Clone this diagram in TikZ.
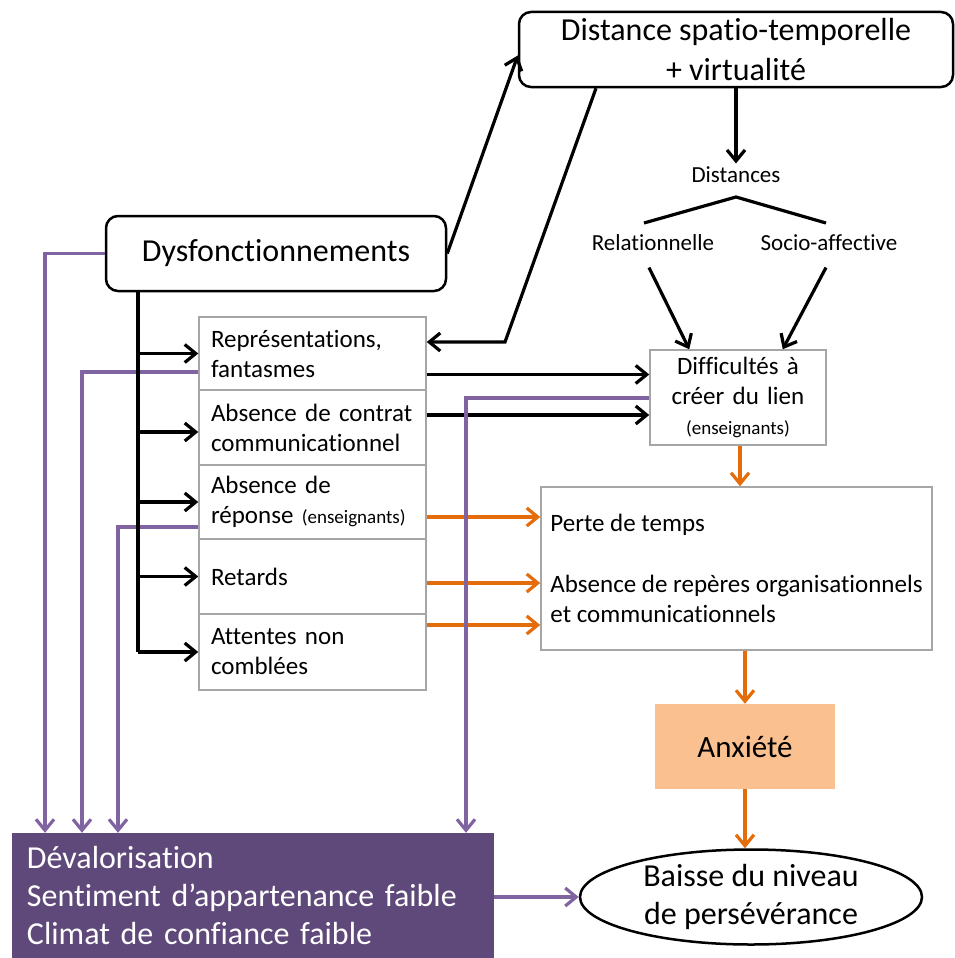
\documentclass[tikz,border=0pt]{standalone}
\usepackage{fontspec}
\setmainfont{Carlito}[Ligatures=NoCommon]
\usetikzlibrary{arrows.meta,shapes.geometric}

\definecolor{violetligne}{HTML}{8064A2}
\definecolor{violetfond}{HTML}{5F497A}
\definecolor{orangeligne}{HTML}{E46C0A}
\definecolor{orangefond}{HTML}{FAC090}
\definecolor{grisbord}{HTML}{A6A6A6}

\tikzset{
  arrondi/.style={draw, rounded corners=12pt, line width=2.5pt, align=center,
    font=\fontsize{32}{40}\selectfont},
  casegris/.style={draw=grisbord, line width=1.5pt, fill=white, align=left,
    text width=203pt, inner xsep=12pt, font=\fontsize{25}{30}\selectfont},
  petit/.style={font=\fontsize{23}{28}\selectfont},
  fleche/.style={->, line width=3.2pt},
  flecheor/.style={->, line width=3.2pt, orangeligne},
  flechevi/.style={->, line width=3.2pt, violetligne},
}

\begin{document}
\begin{tikzpicture}[x=1pt, y=-1pt, >={Straight Barb[length=11pt,width=18pt]}]
  \useasboundingbox (0,0) rectangle (955,958);

  % boites du haut
  \node[arrondi, minimum width=434pt, minimum height=75pt] (haut) at (736,49.5)
    {Distance spatio-temporelle\\+ virtualité};
  \node[arrondi, minimum width=340pt, minimum height=75pt] (dysf) at (276,253.5)
    {Dysfonctionnements};

  % distances
  \node[petit] (dist) at (736,175) {Distances};
  \node[petit] (rel) at (653,243) {Relationnelle};
  \node[petit] (soc) at (829,243) {Socio-affective};

  % colonne des dysfonctionnements
  \node[casegris, minimum height=73pt] (repr) at (312.5,353.5)
    {Représentations,\\fantasmes};
  \node[casegris, minimum height=75pt] (contrat) at (312.5,427.5)
    {Absence de contrat\\communicationnel};
  \node[casegris, minimum height=74pt] (reponse) at (312.5,502)
    {Absence de\\réponse {\fontsize{19}{22}\selectfont (enseignants)}};
  \node[casegris, minimum height=75pt] (retards) at (312.5,576.5) {Retards};
  \node[casegris, minimum height=76pt] (attentes) at (312.5,652)
    {Attentes non\\comblées};

  % effets
  \node[casegris, align=center, text width=160pt, inner xsep=8pt,
    minimum height=95pt] (diff) at (738,397.5)
    {Difficultés à\\créer du lien\\{\fontsize{19}{22}\selectfont (enseignants)}};
  \node[casegris, text width=, inner xsep=9pt, minimum width=391pt,
    minimum height=163pt] (perte) at (736.5,568.5)
    {Perte de temps\\[31pt]Absence de repères organisationnels\\et communicationnels};
  \node[fill=orangefond, minimum width=180pt, minimum height=85pt,
    font=\fontsize{31}{36}\selectfont] (anx) at (745,746.5) {Anxiété};
  \node[ellipse, draw, line width=2.5pt, inner sep=0pt, minimum width=342pt,
    minimum height=95pt, align=center, font=\fontsize{32}{38}\selectfont]
    (baisse) at (751,897) {Baisse du niveau\\de persévérance};
  \node[fill=violetfond, text=white, align=left, text width=452pt,
    inner xsep=15pt, minimum height=125pt, font=\fontsize{32}{38}\selectfont]
    (deval) at (253,895.5)
    {Dévalorisation\\Sentiment d’appartenance faible\\Climat de confiance faible};

  % traits violets vers la devalorisation
  \coordinate (va) at (45,0);
  \coordinate (vb) at (82,0);
  \coordinate (vc) at (118,0);
  \coordinate (vd) at (466,0);
  \draw[flechevi] (dysf.west) -| (va |- deval.north);
  \draw[flechevi] ([yshift=-18.5pt]repr.west) -| (vb |- deval.north);
  \draw[flechevi] ([yshift=-25pt]reponse.west) -| (vc |- deval.north);
  \draw[flechevi] (deval.east |- baisse.west) -- (baisse.west);

  % fleches noires
  \draw[fleche] (dysf.east) -- ([yshift=-6pt]haut.west);
  \coordinate (coude) at (505,342);
  \draw[fleche] ([xshift=-140pt]haut.south) -- (coude) -- (coude -| repr.east);
  \draw[fleche] (haut.south) -- (dist.north);
  \coordinate (sommet) at (736,197);
  \coordinate (brancheg) at (644,223);
  \coordinate (branched) at (826,223);
  \draw[line width=3.2pt] (brancheg) -- (sommet) -- (branched);
  \draw[fleche] ([xshift=-4pt,yshift=-13pt]rel.south) -- ([xshift=40pt]diff.north west);
  \draw[fleche] ([xshift=-3pt,yshift=-13pt]soc.south) -- ([xshift=-44pt]diff.north east);
  \draw[fleche] ([yshift=-21pt]repr.east) -- ([yshift=-21pt]repr.east -| diff.west);
  \draw[fleche] ([yshift=12.5pt]contrat.east) -- ([yshift=12.5pt]contrat.east -| diff.west);

  % tronc
  \coordinate (tronc) at (138,0);
  \draw[line width=3.2pt] (dysf.south -| tronc) -- (tronc |- attentes.west);
  \draw[fleche] (tronc |- repr.west) -- (repr.west);
  \draw[fleche] ([yshift=-4.5pt]tronc |- contrat.west) -- ([yshift=-4.5pt]contrat.west);
  \draw[fleche] (tronc |- reponse.west) -- (reponse.west);
  \draw[fleche] (tronc |- retards.west) -- (retards.west);
  \draw[fleche] (tronc |- attentes.west) -- (attentes.west);

  % fleches orange
  \draw[flecheor] ([xshift=2pt]diff.south) -- ([xshift=2pt]diff.south |- perte.north);
  \draw[flecheor] ([yshift=-15pt]reponse.east) -- ([yshift=-15pt]reponse.east -| perte.west);
  \draw[flecheor] ([yshift=-6.5pt]retards.east) -- ([yshift=-6.5pt]retards.east -| perte.west);
  \draw[flecheor] ([yshift=27pt]attentes.east) -- ([yshift=27pt]attentes.east -| perte.west);
  \draw[flecheor] (anx.north |- perte.south) -- (anx.north);
  \draw[flecheor] (anx.south) -- (anx.south |- baisse.north);

  % lien -> devalorisation
  \draw[flechevi] ([yshift=-0.5pt]diff.west) -| (vd |- deval.north);
\end{tikzpicture}
\end{document}
